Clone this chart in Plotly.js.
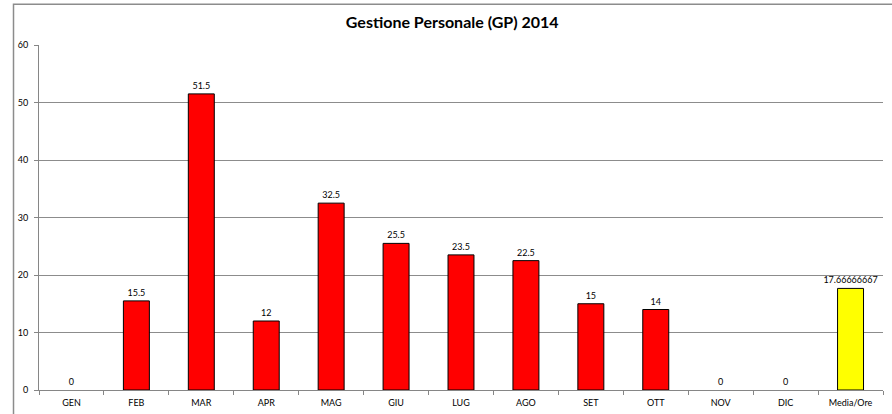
<!DOCTYPE html>
<html>
<head>
<meta charset="utf-8">
<script src="https://cdn.plot.ly/plotly-3.0.1.min.js"></script>
<style>html,body{margin:0;padding:0;background:#fff;}#chart{width:892px;height:414px;}</style>
</head>
<body>
<div id="chart"></div>
<script>
const categories = ["GEN","FEB","MAR","APR","MAG","GIU","LUG","AGO","SET","OTT","NOV","DIC","Media/Ore"];
const values = [0,15.5,51.5,12,32.5,25.5,23.5,22.5,15,14,0,0,17.66666667];
const labels = ["0","15.5","51.5","12","32.5","25.5","23.5","22.5","15","14","0","0","17.66666667"];
const barColors = values.map((v,i)=> i===categories.length-1 ? "#FFFF00" : "#FF0000");
const yTicks = [0,10,20,30,40,50,60];

const L = 38.5, T = 44.7, W = 844.2, H = 345.6;
const data = [{
  type: "bar",
  x: categories,
  y: values,
  text: labels,
  textposition: "outside",
  constraintext: "none",
  cliponaxis: false,
  textfont: {family: "Lato, 'Open Sans', sans-serif", size: 9, color: "#000"},
  marker: {color: barColors, line: {color: "#000", width: values.map(v => v === 0 ? 0 : 1)}},
  hoverinfo: "x+y"
}];
const layout = {
  width: 892, height: 414,
  margin: {l: L, r: 892 - L - W, t: T, b: 414 - T - H},
  paper_bgcolor: "#fff", plot_bgcolor: "#fff",
  bargap: 0.6,
  showlegend: false,
  font: {family: "Lato, 'Open Sans', sans-serif", size: 9, color: "#000"},
  title: {text: "<b>Gestione Personale (GP) 2014</b>", x: 0.507, xanchor: "center", y: 1 - 22.7/414, yanchor: "middle",
          font: {family: "Lato, 'Open Sans', sans-serif", size: 16, color: "#000"}},
  xaxis: {
    type: "category", range: [-0.5, 12.5],
    showline: true, linecolor: "#868686", linewidth: 1,
    ticks: "outside", ticklen: 4, tickcolor: "#868686", tickson: "boundaries",
    ticklabelstandoff: 4,
    showgrid: false, tickfont: {size: 9, color: "#000"}, fixedrange: true
  },
  yaxis: {
    range: [0, 60], tickvals: yTicks, ticktext: yTicks.map(String),
    showline: true, linecolor: "#868686", linewidth: 1,
    ticks: "outside", ticklen: 4, tickcolor: "#868686",
    ticklabelstandoff: 4,
    showgrid: true, gridcolor: "#8c8c8c", gridwidth: 1,
    zeroline: false, tickfont: {size: 9, color: "#000"}, fixedrange: true
  },
  shapes: [{
    type: "rect", xref: "paper", yref: "paper",
    x0: (13 - L)/W, x1: (900 - L)/W,
    y0: (T + H - 420)/H, y1: (T + H - 4)/H,
    line: {color: "#8c8c8c", width: 1.5}, fillcolor: "rgba(0,0,0,0)", layer: "below"
  }]
};
Plotly.newPlot("chart", data, layout, {displayModeBar: false, staticPlot: true});
</script>
</body>
</html>
